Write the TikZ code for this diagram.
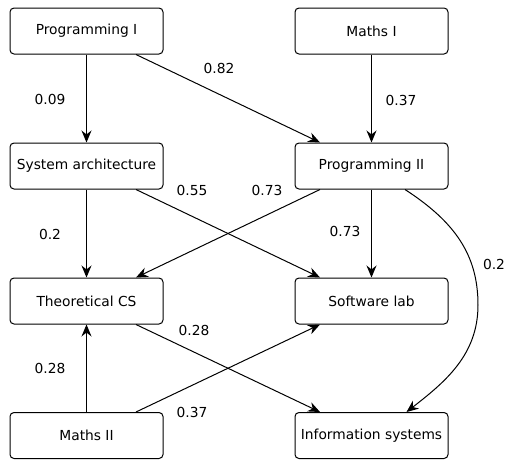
\documentclass[tikz,border=0pt]{standalone}
\usepackage{fontspec}
\setmainfont{DejaVu Sans}
\usetikzlibrary{arrows.meta}
\begin{document}
\begin{tikzpicture}[x=1pt,y=-1pt,
  box/.style={draw,rounded corners=4pt,line width=1pt,minimum width=153pt,minimum height=46pt,inner sep=0pt,font=\fontsize{13.8}{16}\selectfont},
  lbl/.style={inner sep=0pt,font=\fontsize{13.8}{16}\selectfont},
  conn/.style={line width=1pt,-{Stealth[length=12pt,width=10pt,inset=4pt]}}]
\useasboundingbox (0,0) rectangle (507,461);
\node[box] (p1) at (86.5,31) {Programming I};
\node[box] (m1) at (371.5,31) {Maths I};
\node[box] (sa) at (86.5,166) {System architecture};
\node[box] (p2) at (371.5,166) {Programming II};
\node[box] (tcs) at (86.5,301) {Theoretical CS};
\node[box] (sl) at (371.5,301) {Software lab};
\node[box] (m2) at (86.5,435.5) {Maths II};
\node[box] (is) at (371.5,435.5) {Information systems};

\draw[conn] (p1) -- (sa);
\draw[conn] (m1) -- (p2);
\draw[conn] (sa) -- (tcs);
\draw[conn] (p2) -- (sl);
\draw[conn] (m2) -- (tcs);
\draw[conn] ([xshift=49.5pt]p1.south) -- ([xshift=-51.5pt]p2.north);
\draw[conn] ([xshift=49.5pt]sa.south) -- ([xshift=-51.5pt]sl.north);
\draw[conn] ([xshift=-51.5pt]p2.south) -- ([xshift=49.5pt]tcs.north);
\draw[conn] ([xshift=49.5pt]tcs.south) -- ([xshift=-51.5pt]is.north);
\draw[conn] ([xshift=49.5pt]m2.north) -- ([xshift=-51.5pt]sl.south);
\draw[conn] ([xshift=33.5pt]p2.south) .. controls (455,222) and (478,255) .. (478,305) .. controls (478,355) and (445,382) .. ([xshift=35pt]is.north);

\node[lbl] (l1) at (219,68) {0.82};
\node[lbl] (l2) at (50,99) {0.09};
\node[lbl] (l3) at (401,100) {0.37};
\node[lbl] (l4) at (192,190) {0.55};
\node[lbl] (l5) at (267,190) {0.73};
\node[lbl] (l6) at (50,234) {0.2};
\node[lbl] (l7) at (345,231) {0.73};
\node[lbl] (l8) at (494,264) {0.2};
\node[lbl] (l9) at (194,330) {0.28};
\node[lbl] (l10) at (50,368) {0.28};
\node[lbl] (l11) at (192,412) {0.37};
\end{tikzpicture}
\end{document}
